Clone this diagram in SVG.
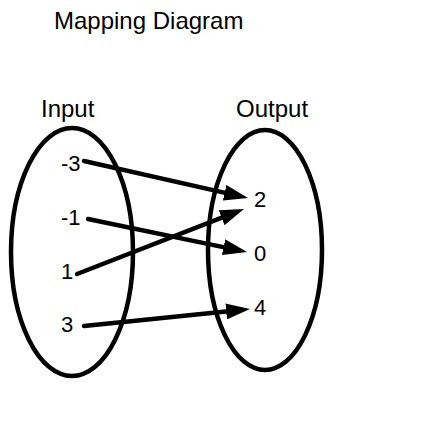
<svg xmlns="http://www.w3.org/2000/svg" width="430" height="428" viewBox="0 0 430 428">
<style>
text{font-family:"Liberation Sans",Arial,sans-serif;fill:#000}
.title{font-size:24px}
.val{font-size:22px}
.set{fill:none;stroke:#000;stroke-width:4.5}
.conn{stroke:#000;stroke-width:4.5;stroke-linecap:round;fill:none}
</style>
<defs>
<marker id="ah" markerUnits="userSpaceOnUse" markerWidth="24" markerHeight="16" refX="12" refY="8" orient="auto">
<path d="M0,0 L24,8 L0,16 z" fill="#000"/>
</marker>
</defs>
<rect width="430" height="428" fill="#fff"/>
<text class="title" x="54" y="29">Mapping Diagram</text>
<g id="input">
<ellipse class="set" cx="72" cy="252" rx="61" ry="124"/>
<text class="title" x="41" y="117">Input</text>
<text class="val" x="61" y="171">-3</text>
<text class="val" x="61" y="225">-1</text>
<text class="val" x="61" y="279">1</text>
<text class="val" x="61" y="332">3</text>
</g>
<g id="output">
<ellipse class="set" cx="265" cy="250" rx="57" ry="120"/>
<text class="title" x="236" y="117">Output</text>
<text class="val" x="254" y="207">2</text>
<text class="val" x="254" y="261">0</text>
<text class="val" x="254" y="315">4</text>
</g>
<g id="connectors">
<line class="conn" x1="84" y1="161" x2="236.3" y2="195.4" marker-end="url(#ah)"/>
<line class="conn" x1="88" y1="219" x2="235.3" y2="249.6" marker-end="url(#ah)"/>
<line class="conn" x1="77" y1="274" x2="232.8" y2="213.4" marker-end="url(#ah)"/>
<line class="conn" x1="84" y1="326" x2="238.1" y2="310.2" marker-end="url(#ah)"/>
</g>
</svg>
